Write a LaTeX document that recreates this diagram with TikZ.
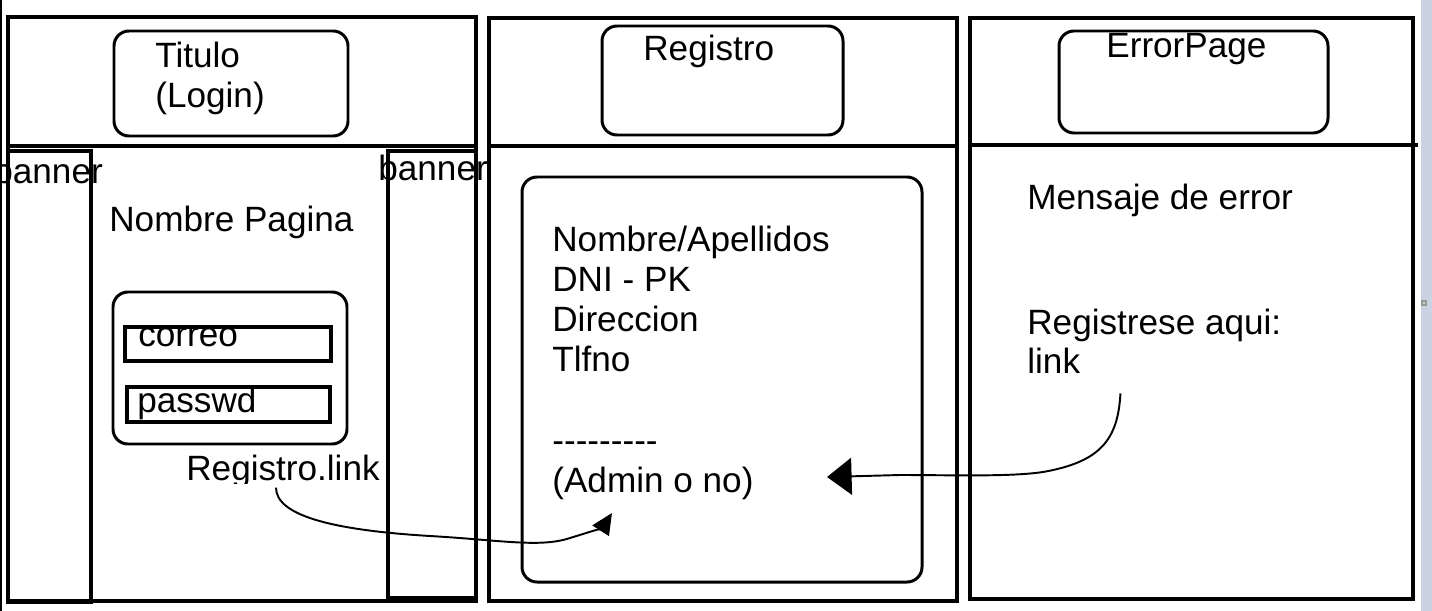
\documentclass[tikz,border=0pt]{standalone}
\usepackage{fontspec}
\setmainfont{Liberation Sans}
\usepackage{tikz}
\usetikzlibrary{arrows.meta, positioning}
\definecolor{barblue}  {RGB}{201, 211, 226}
\definecolor{markgray} {RGB}{150, 150, 150}

\begin{document}
\begin{tikzpicture}[x=0.02cm,y=-0.02cm,
	frame/.style={line width=2.3pt},
	box/.style={line width=1.7pt,rounded corners=0.3cm},
	field/.style={line width=2pt},
	txt/.style={anchor=base west,inner sep=0pt,font=\fontsize{20}{22.8}\selectfont},
	linkA/.style={line width=1.1pt,-{Triangle[length=12pt,width=11pt]}},
	linkB/.style={line width=1.1pt,-{Triangle[length=14pt,width=21pt]}}]
	\useasboundingbox (0,0) rectangle (1432,611);
	\fill[barblue] (1421,0) rectangle (1432,611);
	\draw[markgray,line width=0.6pt] (1422,301) rectangle (1426,305);
	\draw[line width=1.2pt] (1,0) -- (1,611);

	\draw[frame] (8,17) rectangle (476,601);
	\draw[frame] (8,146) -- (476,146);
	\draw[frame] (8,151) rectangle (91,602);
	\draw[frame] (388,151) rectangle (476,598);
	\draw[box] (114,31) rectangle (348,136);
	\node[txt] (titulo) at (155,68) {Titulo};
	\node[txt] (login) at (155,108) {(Login)};
	\node[txt] (bannerL) at (-7,184) {banner};
	\node[txt] (bannerR) at (378,181) {banner};
	\node[txt] (nombrepag) at (109,232) {Nombre Pagina};
	\draw[box] (113,292) rectangle (347,444);
	\node[txt] (correo) at (138,346) {correo};
	\draw[field] (125,327) rectangle (331,361);
	\draw[field] (127,387) rectangle (330,422);
	\node[txt] (passwd) at (137,412) {passwd};
	\begin{scope}
		\clip (150,440) rectangle (400,483);
		\node[txt] (reglink) at (186,480) {Registro.link};
	\end{scope}

	\draw[frame] (489,18) rectangle (957,601);
	\draw[frame] (489,146) -- (957,146);
	\draw[box] (602,26) rectangle (843,135);
	\node[txt] (registro) at (643,61) {Registro};
	\draw[box] (522,177) rectangle (922,582);
	\node[txt,align=left,anchor=north west] (campos) at (552,226)
		{Nombre/Apellidos\\DNI - PK\\Direccion\\Tlfno\\[22.8pt]\mbox{-}\mbox{-}\mbox{-}\mbox{-}\mbox{-}\mbox{-}\mbox{-}\mbox{-}\mbox{-}\\(Admin o no)};

	\draw[frame] (970,18) rectangle (1413,599);
	\draw[frame] (970,145) -- (1418,145);
	\draw[box] (1059,31) rectangle (1328,133);
	\node[txt] (errorpage) at (1106,58) {ErrorPage};
	\node[txt] (mensaje) at (1027,210) {Mensaje de error};
	\node[txt] (registrese) at (1027,334) {Registrese aqui:};
	\node[txt] (errlink) at (1027,373) {link};

	\coordinate (adminIn) at (612,513);
	\coordinate (adminRight) at (827,477);
	\coordinate[below right=0.4cm and 0.8cm of errlink.south east] (errOut);
	\draw[linkA] ([xshift=-0.14cm]reglink.south) .. controls (276,515) and (330,530) .. (430,536)
		.. controls (500,540) and (540,548) .. (570,538)
		.. controls (590,532) and (603,527) .. (adminIn);
	\draw[linkB] (errOut) .. controls (1118,440) and (1100,462) .. (1043,472)
		.. controls (1010,477) and (950,475) .. (900,475) -- (adminRight);
\end{tikzpicture}
\end{document}
